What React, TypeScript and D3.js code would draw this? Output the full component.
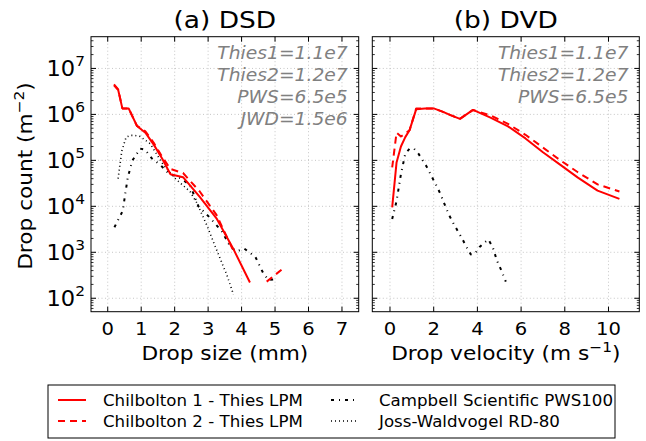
import React from "react";
import * as d3 from "d3";

// ---------- data ----------
const sizeThies = [0.1875, 0.3125, 0.4375, 0.625, 0.875, 1.125, 1.375, 1.625, 1.875, 2.25, 2.75, 3.25, 3.75, 4.25, 4.75, 5.25];
const dsdThies1 = [4.3e6, 3.4e6, 1.35e6, 1.35e6, 5.6e5, 4.0e5, 2.2e5, 1.1e5, 5.0e4, 4.3e4, 1.6e4, 5.5e3, 1.2e3, 220, NaN, NaN];
const dsdThies2 = [4.5e6, 3.5e6, 1.35e6, 1.35e6, 5.6e5, 4.3e5, 2.4e5, 1.2e5, 6.5e4, 5.3e4, 2.1e4, 6.5e3, 1.1e3, NaN, 230, 450];

const sizePws = [0.2, 0.45, 0.52, 0.6, 0.74, 0.97, 1.12, 1.32, 1.57, 1.82, 2.17, 2.46, 2.71, 3.07, 3.42, 3.67, 3.85, 4.08, 4.41, 4.64, 4.8, 5.06];
const dsdPws = [3.5e3, 8e3, 1.8e4, 4.3e4, 1.0e5, 1.8e5, 1.7e5, 1.1e5, 8e4, 5.2e4, 4.1e4, 2.9e4, 1.0e4, 5.5e3, 2.8e3, 1.3e3, 1.05e3, 1.2e3, 800, 360, 250, 260];

const sizeJwd = [0.31, 0.42, 0.55, 0.68, 0.8, 0.97, 1.27, 1.66, 2.02, 2.46, 2.66, 2.96, 3.26, 3.56, 3.76];
const dsdJwd = [4e4, 1.6e5, 3.2e5, 3.5e5, 3.5e5, 3.3e5, 2.3e5, 8e4, 4e4, 2.1e4, 1.2e4, 3.9e3, 1.1e3, 320, 120];

const velThies = [0.1, 0.3, 0.5, 0.7, 0.9, 1.2, 1.6, 2.0, 2.4, 2.8, 3.2, 3.8, 4.6, 5.4, 6.2, 7.0, 7.8, 8.6, 9.5, 10.5];
const dvdThies1 = [9.5e3, 9e4, 2e5, 3.2e5, 4.6e5, 1.3e6, 1.35e6, 1.35e6, 1.15e6, 9.5e5, 8e5, 1.25e6, 8.5e5, 5.5e5, 3e5, 1.5e5, 8e4, 4.2e4, 2.2e4, 1.45e4];
const dvdThies2 = [7e4, 4e5, 3.3e5, 3.8e5, 4.6e5, 1.35e6, 1.35e6, 1.35e6, 1.15e6, 9.5e5, 8e5, 1.25e6, 9.5e5, 6.2e5, 3.6e5, 1.9e5, 1e5, 5.5e4, 3e4, 2.1e4];

const velPws = [0.1, 0.3, 0.5, 0.7, 0.9, 1.1, 1.3, 1.5, 1.7, 1.9, 2.1, 2.3, 2.5, 2.7, 2.9, 3.1, 3.3, 3.5, 3.7, 3.9, 4.1, 4.3, 4.5, 4.7, 4.9, 5.1, 5.3];
const dvdPws = [5.3e3, 1.3e4, 5e4, 1.4e5, 1.8e5, 1.8e5, 1.4e5, 1e5, 7e4, 4.5e4, 3e4, 1.9e4, 1.1e4, 6.5e3, 4.3e3, 2.9e3, 2e3, 1.3e3, 900, 950, 1.3e3, 1.6e3, 1.9e3, 1.3e3, 650, 400, 230];

const dsdTicksX = [0, 1, 2, 3, 4, 5, 6, 7];
const dvdTicksX = [0, 2, 4, 6, 8, 10];
const yTickExps = [2, 3, 4, 5, 6, 7];
const dsdNotes = ["Thies1=1.1e7", "Thies2=1.2e7", "PWS=6.5e5", "JWD=1.5e6"];
const dvdNotes = ["Thies1=1.1e7", "Thies2=1.2e7", "PWS=6.5e5"];
const legendItems = [
  { label: "Chilbolton 1 - Thies LPM", key: "t1" },
  { label: "Chilbolton 2 - Thies LPM", key: "t2" },
  { label: "Campbell Scientific PWS100", key: "pws" },
  { label: "Joss-Waldvogel RD-80", key: "jwd" },
];

// ---------- styles ----------
const FONT = "DejaVu Sans, Verdana, sans-serif";
const styles: Record<string, { stroke: string; width: number; dash?: string }> = {
  t1: { stroke: "#ff0000", width: 2 },
  t2: { stroke: "#ff0000", width: 2, dash: "7,5" },
  pws: { stroke: "#000000", width: 2, dash: "3,5,1,5" },
  jwd: { stroke: "#000000", width: 1.6, dash: "1,3" },
};

const TOP = 36.7;
const BOTTOM = 311.7;
const y = d3.scaleLog().domain([51, 4.9e7]).range([BOTTOM, TOP]);

// text horizontally widened like the hinted raster text of the original
function T({ x, y: ty, s = 1.1, rotate = 0, children, ...rest }: any) {
  return (
    <text transform={`translate(${x},${ty})${rotate ? ` rotate(${rotate})` : ""} scale(${s},1)`} fontFamily={FONT} {...rest}>
      {children}
    </text>
  );
}

type Series = { xs: number[]; ys: number[]; key: string };

function Panel({
  x0, x1, domain, ticks, title, xlabel, notes, series, showYLabels,
}: {
  x0: number; x1: number; domain: [number, number]; ticks: number[]; title: string;
  xlabel: React.ReactNode; notes: string[]; series: Series[]; showYLabels: boolean;
}) {
  const x = d3.scaleLinear().domain(domain).range([x0, x1]);
  const minor: number[] = [];
  for (let e = 1; e <= 7; e++) {
    for (let m = 2; m <= 9; m++) {
      const v = m * Math.pow(10, e);
      if (v >= y.domain()[0] && v <= y.domain()[1]) minor.push(v);
    }
  }
  const cx = (x0 + x1) / 2;
  const clipId = "clip" + title.replace(/\W/g, "");
  return (
    <g>
      {/* grid */}
      {ticks.map((t) => (
        <line key={"gx" + t} x1={x(t)} x2={x(t)} y1={TOP} y2={BOTTOM} stroke="#b8b8b8" strokeWidth={0.8} strokeDasharray="1,2.5" />
      ))}
      {yTickExps.map((e) => (
        <line key={"gy" + e} x1={x0} x2={x1} y1={y(Math.pow(10, e))} y2={y(Math.pow(10, e))} stroke="#b8b8b8" strokeWidth={0.8} strokeDasharray="1,2.5" />
      ))}
      {/* series */}
      <clipPath id={clipId}>
        <rect x={x0} y={TOP} width={x1 - x0} height={BOTTOM - TOP} />
      </clipPath>
      <g clipPath={`url(#${clipId})`}>
        {series.map((s) => {
          const pts = s.xs.map((v, i) => [v, s.ys[i]] as [number, number]);
          const line = d3
            .line<[number, number]>()
            .defined((d) => Number.isFinite(d[1]) && d[1] > 0)
            .x((d) => x(d[0]))
            .y((d) => y(d[1]));
          const st = styles[s.key];
          return (
            <path key={s.key} d={line(pts) || ""} fill="none" stroke={st.stroke} strokeWidth={st.width}
              strokeDasharray={st.dash} strokeLinejoin="round" />
          );
        })}
      </g>
      {/* frame */}
      <rect x={x0} y={TOP} width={x1 - x0} height={BOTTOM - TOP} fill="none" stroke="#000" strokeWidth={1} />
      {/* x ticks */}
      {ticks.map((t) => (
        <g key={"tx" + t}>
          <line x1={x(t)} x2={x(t)} y1={BOTTOM} y2={BOTTOM - 5} stroke="#000" />
          <line x1={x(t)} x2={x(t)} y1={TOP} y2={TOP + 5} stroke="#000" />
          <T x={x(t)} y={335} s={1.12} textAnchor="middle" fontSize={17.5}>{t}</T>
        </g>
      ))}
      {/* y ticks */}
      {yTickExps.map((e) => {
        const py = y(Math.pow(10, e));
        return (
          <g key={"ty" + e}>
            <line x1={x0} x2={x0 + 5} y1={py} y2={py} stroke="#000" />
            <line x1={x1} x2={x1 - 5} y1={py} y2={py} stroke="#000" />
            {showYLabels && (
              <T x={x0 - 6} y={py + 7.5} s={1.1} textAnchor="end" fontSize={20.5}>
                10<tspan dy={-10} fontSize={14}>{e}</tspan>
              </T>
            )}
          </g>
        );
      })}
      {minor.map((v) => (
        <g key={"my" + v}>
          <line x1={x0} x2={x0 + 2.5} y1={y(v)} y2={y(v)} stroke="#000" strokeWidth={0.8} />
          <line x1={x1} x2={x1 - 2.5} y1={y(v)} y2={y(v)} stroke="#000" strokeWidth={0.8} />
        </g>
      ))}
      {/* notes */}
      {notes.map((n, i) => (
        <T key={n} x={x1 - 11} y={59 + i * 22} s={1.1} textAnchor="end" fontSize={17} fontStyle="italic" fill="#808080">
          {n}
        </T>
      ))}
      {/* title & label */}
      <T x={cx} y={28} s={1.15} textAnchor="middle" fontSize={23}>{title}</T>
      <T x={cx} y={360} s={1.1} textAnchor="middle" fontSize={19.7}>{xlabel}</T>
    </g>
  );
}

export default function App() {
  const legX = 48, legY = 385, legW = 567, legH = 53;
  return (
    <svg width={646} height={441} style={{ position: "absolute", left: 0, top: 0, background: "#fff" }}>
      <rect x={0} y={0} width={646} height={441} fill="#fff" />
      <Panel
        x0={91} x1={358.7} domain={[-0.5, 7.5]} ticks={dsdTicksX} title="(a) DSD"
        xlabel="Drop size (mm)" notes={dsdNotes} showYLabels
        series={[
          { xs: sizeJwd, ys: dsdJwd, key: "jwd" },
          { xs: sizePws, ys: dsdPws, key: "pws" },
          { xs: sizeThies, ys: dsdThies2, key: "t2" },
          { xs: sizeThies, ys: dsdThies1, key: "t1" },
        ]}
      />
      <Panel
        x0={372.3} x1={639.3} domain={[-0.81, 11.41]} ticks={dvdTicksX} title="(b) DVD"
        xlabel={<>Drop velocity (m s<tspan dy={-8} fontSize={14}>−1</tspan><tspan dy={8}>)</tspan></>}
        notes={dvdNotes} showYLabels={false}
        series={[
          { xs: velPws, ys: dvdPws, key: "pws" },
          { xs: velThies, ys: dvdThies2, key: "t2" },
          { xs: velThies, ys: dvdThies1, key: "t1" },
        ]}
      />
      {/* y label */}
      <T x={32} y={176} rotate={-90} s={1.1} textAnchor="middle" fontSize={19.7}>
        Drop count (m<tspan dy={-8} fontSize={14}>−2</tspan><tspan dy={8}>)</tspan>
      </T>
      {/* legend */}
      <rect x={legX} y={legY} width={legW} height={legH} fill="#fff" stroke="#000" strokeWidth={1} />
      {legendItems.map((it, i) => {
        const col = Math.floor(i / 2);
        const row = i % 2;
        const lx = col === 0 ? 58 : 331;
        const tx = col === 0 ? 103 : 379;
        const ly = 400 + row * 21;
        const st = styles[it.key];
        return (
          <g key={it.key}>
            <line x1={lx} x2={lx + 28} y1={ly} y2={ly} stroke={st.stroke} strokeWidth={st.width} strokeDasharray={st.dash} />
            <T x={tx} y={ly + 5.5} s={1.075} fontSize={15.5}>{it.label}</T>
          </g>
        );
      })}
    </svg>
  );
}
